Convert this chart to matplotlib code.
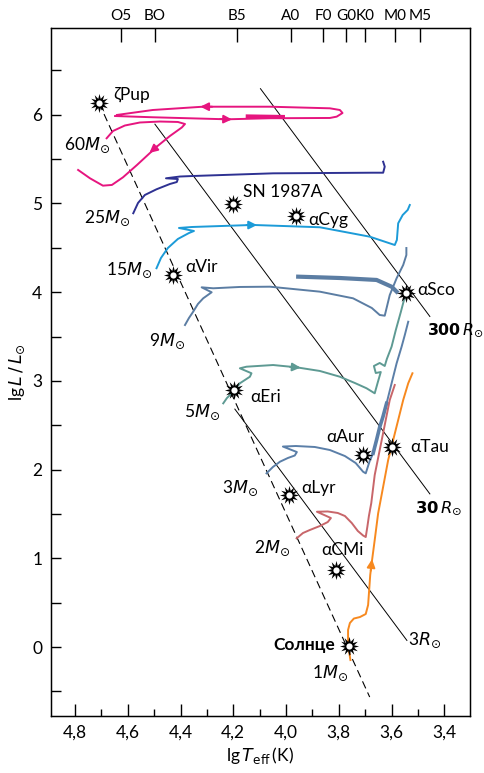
import numpy as np
import matplotlib
matplotlib.use('Agg')
import matplotlib.pyplot as plt
from matplotlib.ticker import MultipleLocator

plt.rc('font', **{'family': ['Lato', 'DejaVu Sans'], 'size': 12})
plt.rc('mathtext', fontset='dejavusans')

# evolutionary tracks: lg Teff, lg L/Lsun
t60 = [4.680, 4.656, 4.611, 4.554, 4.478, 4.410, 4.383, 4.395, 4.440, 4.489, 4.565, 4.618, 4.660, 4.694, 4.743, 4.788]
l60 = [5.735, 5.817, 5.879, 5.913, 5.924, 5.919, 5.896, 5.857, 5.761, 5.643, 5.434, 5.295, 5.209, 5.201, 5.284, 5.378]
t60_loop = [4.648, 4.505, 4.224, 4.061, 3.834, 3.808, 3.786, 3.796, 3.834, 4.061, 4.315, 4.505, 4.641]
l60_loop = [5.986, 5.972, 5.949, 5.961, 5.964, 5.979, 6.020, 6.054, 6.073, 6.091, 6.091, 6.054, 5.998]
t60_thick = [4.145, 4.012]
l60_thick = [5.981, 5.975]

t25 = [4.579, 4.561, 4.535, 4.491, 4.440, 4.414, 4.410, 4.455, 4.402, 4.352, 4.049, 3.670, 3.632, 3.626, 3.632]
l25 = [4.890, 5.006, 5.096, 5.160, 5.220, 5.242, 5.276, 5.284, 5.304, 5.310, 5.340, 5.347, 5.347, 5.415, 5.471]

t15 = [4.491, 4.474, 4.448, 4.410, 4.368, 4.349, 4.406, 4.357, 4.126, 3.872, 3.683, 3.588, 3.580, 3.575, 3.558, 3.539, 3.531]
l15 = [4.270, 4.386, 4.498, 4.600, 4.667, 4.690, 4.724, 4.735, 4.758, 4.732, 4.626, 4.532, 4.589, 4.777, 4.870, 4.927, 4.983]

t9 = [4.383, 4.368, 4.352, 4.334, 4.314, 4.282, 4.320, 4.276, 4.175, 4.061, 3.872, 3.746, 3.675, 3.645, 3.626, 3.607, 3.581, 3.556, 3.544, 3.544]
l9 = [3.630, 3.709, 3.780, 3.867, 3.931, 3.999, 4.055, 4.044, 4.059, 4.062, 4.006, 3.931, 3.822, 3.743, 3.735, 3.968, 4.157, 4.307, 4.419, 4.498]
t9_thick = [3.954, 3.796, 3.657, 3.600, 3.581]
l9_thick = [4.175, 4.160, 4.138, 4.062, 4.006]

t5 = [4.238, 4.224, 4.206, 4.175, 4.137, 4.131, 4.175, 4.150, 4.049, 3.960, 3.872, 3.796, 3.739, 3.695, 3.664, 3.652, 3.641, 3.660, 3.667, 3.645, 3.626, 3.618, 3.600, 3.584, 3.565, 3.550]
l5 = [2.747, 2.807, 2.860, 2.973, 3.047, 3.086, 3.142, 3.160, 3.179, 3.153, 3.112, 3.047, 2.976, 2.917, 2.860, 2.988, 3.100, 3.089, 3.168, 3.202, 3.168, 3.247, 3.386, 3.574, 3.777, 3.946]

t3 = [4.074, 4.050, 4.023, 3.993, 3.967, 3.959, 4.012, 3.963, 3.891, 3.834, 3.777, 3.736, 3.708, 3.698, 3.683, 3.670, 3.657, 3.645, 3.633, 3.619, 3.600, 3.581, 3.562, 3.550, 3.537]
l3 = [1.958, 2.029, 2.089, 2.131, 2.159, 2.198, 2.260, 2.266, 2.255, 2.221, 2.153, 2.074, 1.976, 1.958, 2.097, 2.184, 2.334, 2.480, 2.593, 2.747, 2.973, 3.198, 3.386, 3.517, 3.667]
t3_thick = [3.670, 3.657, 3.645, 3.633, 3.619]
l3_thick = [2.184, 2.334, 2.480, 2.593, 2.747]

t2 = [3.960, 3.936, 3.910, 3.872, 3.842, 3.830, 3.883, 3.842, 3.804, 3.777, 3.751, 3.728, 3.708, 3.698, 3.692, 3.686, 3.677, 3.664, 3.645, 3.626, 3.607, 3.588]
l2 = [1.225, 1.285, 1.319, 1.364, 1.409, 1.454, 1.525, 1.528, 1.511, 1.477, 1.398, 1.308, 1.257, 1.240, 1.353, 1.477, 1.623, 1.939, 2.221, 2.503, 2.785, 2.954]

t1 = [3.756, 3.762, 3.765, 3.765, 3.758, 3.743, 3.720, 3.698, 3.689, 3.685, 3.681, 3.675, 3.664, 3.651, 3.632, 3.613, 3.594, 3.575, 3.556, 3.537, 3.521]
l1 = [-0.147, -0.034, 0.079, 0.192, 0.271, 0.321, 0.338, 0.372, 0.474, 0.643, 0.812, 0.958, 1.206, 1.507, 1.807, 2.108, 2.334, 2.559, 2.785, 2.973, 3.086]

# main sequence (dashed)
ms_t = [4.709, 3.683]
ms_l = [6.133, -0.564]

# lines of constant radius
radii = [3, 30, 300]
radii_trange = [(4.194, 3.542), (4.497, 3.455), (4.097, 3.455)]
lgT_sun = 3.762

stars = ['ζPup', 'SN 1987A', 'αCyg', 'αVir', 'αSco', 'αEri', 'αAur', 'αTau', 'αLyr', 'αCMi', 'Солнце']
star_t = [4.709, 4.2015, 3.963, 4.428, 3.547, 4.197, 3.708, 3.597, 3.988, 3.811, 3.761]
star_l = [6.133, 4.994, 4.859, 4.194, 3.988, 2.897, 2.165, 2.258, 1.714, 0.868, 0.01]

spec_classes = ['O5', 'BO', 'B5', 'A0', 'F0', 'G0', 'K0', 'M0', 'M5']
spec_t = [4.627, 4.497, 4.185, 3.983, 3.859, 3.773, 3.700, 3.588, 3.491]

masses = ['60', '25', '15', '9', '5', '3', '2', '1']

c60 = '#E6157F'
c25 = '#2E3192'
c15 = '#1C9BD8'
c9 = '#5B7DA3'
c5 = '#5E9A93'
c3 = '#5B7FA8'
c2 = '#C8666A'
c1 = '#F7891F'

fig = plt.figure(figsize=(4.85, 7.73), dpi=100)
ax = fig.add_axes([0.1045, 0.0737, 0.8645, 0.8897])

lw = 1.4
ax.plot(ms_t, ms_l, color='black', lw=0.8, dashes=(7, 4))
for r, (ta, tb) in zip(radii, radii_trange):
    tt = np.array([ta, tb])
    ax.plot(tt, 2*np.log10(r) + 4*(tt - lgT_sun), color='black', lw=0.7)

ax.plot(t60, l60, color=c60, lw=lw)
ax.plot(t60_loop, l60_loop, color=c60, lw=lw)
ax.plot(t60_thick, l60_thick, color=c60, lw=3)
ax.plot(t25, l25, color=c25, lw=lw)
ax.plot(t15, l15, color=c15, lw=lw)
ax.plot(t9, l9, color=c9, lw=lw)
ax.plot(t9_thick, l9_thick, color=c9, lw=3)
ax.plot(t5, l5, color=c5, lw=lw)
ax.plot(t3, l3, color=c3, lw=lw)
ax.plot(t3_thick, l3_thick, color=c3, lw=2.6)
ax.plot(t2, l2, color=c2, lw=lw)
ax.plot(t1, l1, color=c1, lw=lw)

def arrow(x0, y0, x1, y1, c):
    ax.annotate('', xy=(x1, y1), xytext=(x0, y0),
                arrowprops=dict(arrowstyle='-|>', color=c, lw=lw, mutation_scale=12, shrinkA=0, shrinkB=0))

arrow(4.25, 5.952, 4.205, 5.948, c60)
arrow(4.28, 6.091, 4.325, 6.091, c60)
arrow(4.489, 5.643, 4.518, 5.570, c60)
arrow(4.15, 4.757, 4.11, 4.757, c15)
arrow(3.985, 3.158, 3.945, 3.150, c5)
arrow(3.679, 0.86, 3.674, 0.99, c1)

# stars
ax.scatter(star_t, star_l, marker=(12, 1, 0), s=190, color='black', zorder=5, linewidths=0)
ax.scatter(star_t, star_l, marker='o', s=30, facecolor='white', edgecolor='black', linewidths=1.0, zorder=6)

fs = 12.5
star_label_pos = [(4.656, 6.225), (4.164, 5.133), (3.917, 4.814), (4.383, 4.288), (3.501, 4.025),
                  (4.137, 2.822), (3.847, 2.371), (3.531, 2.258), (3.941, 1.789), (3.866, 1.094)]
for name, (x, y) in zip(stars[:-1], star_label_pos):
    ax.text(x, y, name, fontsize=fs, ha='left', va='center')
ax.text(3.815, 0.023, stars[-1], fontsize=fs, ha='right', va='center', fontweight='bold')

mass_label_pos = [(4.667, 5.660), (4.592, 4.837), (4.508, 4.250), (4.383, 3.450),
                  (4.251, 2.649), (4.107, 1.793), (3.986, 1.116), (3.766, -0.293)]
for m, (x, y) in zip(masses, mass_label_pos):
    ax.text(x, y, m + r'$M_{\odot}$', fontsize=fs, ha='right', va='center')

ax.text(3.466, 3.574, r'$\mathbf{300}\,R_{\odot}$', fontsize=11.3, ha='left', va='center')
ax.text(3.512, 1.567, r'$\mathbf{30}\,R_{\odot}$', fontsize=11.8, ha='left', va='center')
ax.text(3.539, 0.079, r'3$R_{\odot}$', fontsize=fs, ha='left', va='center')

ax.set_xlim(4.892, 3.303)
ax.set_ylim(-0.778, 6.975)

xt = [4.8, 4.6, 4.4, 4.2, 4.0, 3.8, 3.6, 3.4]
ax.set_xticks(xt)
ax.set_xticklabels([('%.1f' % v).replace('.', ',') for v in xt])
ax.xaxis.set_minor_locator(MultipleLocator(0.1))
ax.set_yticks(range(0, 7))
ax.yaxis.set_minor_locator(MultipleLocator(0.5))
ax.tick_params(axis='x', which='major', direction='in', length=9, width=1, pad=6, labelsize=12.5)
ax.tick_params(axis='x', which='minor', direction='in', length=5, width=1)
ax.tick_params(axis='y', which='both', direction='in', length=7, width=1, pad=6, labelsize=12.5)
for s in ax.spines.values():
    s.set_linewidth(1.0)

ax2 = ax.twiny()
ax2.set_xlim(ax.get_xlim())
ax2.set_xticks(spec_t)
ax2.set_xticklabels(spec_classes)
ax2.tick_params(axis='x', direction='in', length=10, width=1, pad=4, labelsize=11)

ax.set_xlabel(r'lg$\,T_{\mathrm{eff}}\,$(K)', fontsize=12.5, labelpad=3)
ax.set_ylabel(r'lg$\,L\,/\,L_{\odot}$', fontsize=12.5, labelpad=4)

plt.savefig('out.png', dpi=100)
